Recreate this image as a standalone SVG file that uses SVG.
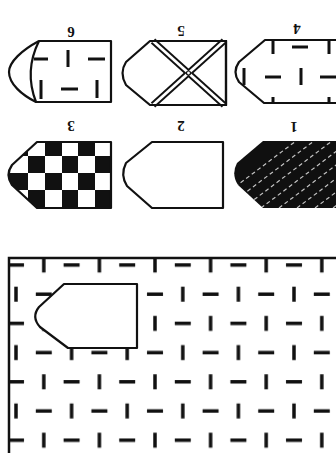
<svg xmlns="http://www.w3.org/2000/svg" width="336" height="453" viewBox="0 0 336 453">
  <style>
    .outline { fill: #fff; stroke: #111; stroke-width: 2.2; stroke-linejoin: round; }
    .dash { stroke: #111; stroke-width: 3.5; fill: none; }
    .sdash { stroke: #111; stroke-width: 3; fill: none; }
    .num { font-family: "Liberation Serif", "DejaVu Serif", serif; font-weight: bold; font-size: 15px; fill: #111; }
    .wl { stroke: #fff; stroke-width: 1.2; stroke-dasharray: 4 3; opacity: 0.75; }
  </style>
  <defs>
    <pattern id="brick" patternUnits="userSpaceOnUse" x="2.1" y="250.4" width="55.6" height="58.4">
      <line class="dash" x1="5.9" y1="14.6" x2="21.9" y2="14.6"/>
      <line class="dash" x1="41.7" y1="7.1" x2="41.7" y2="22.1"/>
      <line class="dash" x1="13.9" y1="36.3" x2="13.9" y2="51.3"/>
      <line class="dash" x1="33.7" y1="43.8" x2="49.7" y2="43.8"/>
    </pattern>
    <clipPath id="clip3">
      <path d="M37,142 H111 V208 H37 L12,185 Q5,175 12,165 Z"/>
    </clipPath>
    <clipPath id="clip1">
      <path d="M263,141 H340 V208 H263 L238,185 Q231,174 237,163 Z"/>
    </clipPath>
  </defs>
  <rect width="336" height="453" fill="#fff"/>

  <!-- Row 1 -->
  <g id="shape-6">
    <path class="outline" d="M39,41 H111 V102 H36 Q24,71 39,41 Z"/>
    <path fill="none" stroke="#111" stroke-width="2.2" d="M39,41 C22,50 9,62 9,72 C9,84 22,95 36,102"/>
    <line class="sdash" x1="34" y1="59" x2="48" y2="59"/>
    <line class="sdash" x1="68" y1="50" x2="68" y2="67"/>
    <line class="sdash" x1="88" y1="59" x2="105" y2="59"/>
    <line class="sdash" x1="41" y1="80" x2="41" y2="99"/>
    <line class="sdash" x1="61" y1="89" x2="78" y2="89"/>
    <line class="sdash" x1="97" y1="80" x2="97" y2="98"/>
    <text class="num" x="71" y="32" text-anchor="middle" dominant-baseline="central" transform="rotate(180 71 32)">6</text>
  </g>

  <g id="shape-5">
    <path class="outline" d="M150,41 H226 V105 H150 L126,85 Q119,73 126,62 Z"/>
    <line x1="153" y1="41" x2="224" y2="105" stroke="#111" stroke-width="6.5"/>
    <line x1="224" y1="41" x2="153" y2="105" stroke="#111" stroke-width="6.5"/>
    <line x1="153" y1="41" x2="224" y2="105" stroke="#fff" stroke-width="2.8"/>
    <line x1="224" y1="41" x2="153" y2="105" stroke="#fff" stroke-width="2.8"/>
    <circle cx="188.5" cy="73" r="2" fill="#fff" stroke="#111" stroke-width="1.2"/>
    <path fill="none" stroke="#111" stroke-width="2.2" d="M150,41 H226 V105 H150"/>
    <text class="num" x="181" y="31" text-anchor="middle" dominant-baseline="central" transform="rotate(180 181 31)">5</text>
  </g>

  <g id="shape-4">
    <path class="outline" d="M340,40 H265 L239,62 Q232,72 239,82 L264,103 H340"/>
    <line class="sdash" x1="273" y1="40" x2="273" y2="54"/>
    <line class="sdash" x1="292" y1="47" x2="308" y2="47"/>
    <line class="sdash" x1="329" y1="40" x2="329" y2="54"/>
    <line class="sdash" x1="244" y1="68" x2="244" y2="85"/>
    <line class="sdash" x1="265" y1="77" x2="281" y2="77"/>
    <line class="sdash" x1="301" y1="68" x2="301" y2="85"/>
    <line class="sdash" x1="320" y1="77" x2="336" y2="77"/>
    <line class="sdash" x1="273" y1="97" x2="273" y2="103"/>
    <line class="sdash" x1="329" y1="97" x2="329" y2="103"/>
    <text class="num" x="297" y="29" text-anchor="middle" dominant-baseline="central" transform="rotate(180 297 29)">4</text>
  </g>

  <!-- Row 2 -->
  <g id="shape-3">
    <path d="M37,142 H111 V208 H37 L12,185 Q5,175 12,165 Z" fill="#fff"/>
    <g clip-path="url(#clip3)" fill="#111">
      <rect x="4" y="142" width="24" height="14"/>
      <rect x="45" y="142" width="17" height="14"/>
      <rect x="78" y="142" width="17" height="14"/>
      <rect x="28" y="156" width="17" height="17"/>
      <rect x="62" y="156" width="16" height="17"/>
      <rect x="95" y="156" width="16" height="17"/>
      <rect x="4" y="173" width="24" height="17"/>
      <rect x="45" y="173" width="17" height="17"/>
      <rect x="78" y="173" width="17" height="17"/>
      <rect x="28" y="190" width="17" height="18"/>
      <rect x="62" y="190" width="16" height="18"/>
      <rect x="95" y="190" width="16" height="18"/>
    </g>
    <path d="M37,142 H111 V208 H37 L12,185 Q5,175 12,165 Z" fill="none" stroke="#111" stroke-width="2.2" stroke-linejoin="round"/>
    <text class="num" x="71" y="126" text-anchor="middle" dominant-baseline="central" transform="rotate(180 71 126)">3</text>
  </g>

  <g id="shape-2">
    <path class="outline" d="M152,142 H223 V208 H152 L127,186 Q120,175 126,163 Z"/>
    <text class="num" x="181" y="126" text-anchor="middle" dominant-baseline="central" transform="rotate(180 181 126)">2</text>
  </g>

  <g id="shape-1">
    <path d="M263,141 H340 V208 H263 L238,185 Q231,174 237,163 Z" fill="#111"/>
    <g clip-path="url(#clip1)">
      <line class="wl" x1="207" y1="208" x2="296" y2="141"/>
      <line class="wl" x1="225" y1="208" x2="314" y2="141"/>
      <line class="wl" x1="243" y1="208" x2="332" y2="141"/>
      <line class="wl" x1="261" y1="208" x2="350" y2="141"/>
      <line class="wl" x1="279" y1="208" x2="368" y2="141"/>
      <line class="wl" x1="297" y1="208" x2="386" y2="141"/>
      <line class="wl" x1="315" y1="208" x2="404" y2="141"/>
      <line class="wl" x1="333" y1="208" x2="422" y2="141"/>
    </g>
    <text class="num" x="294" y="127" text-anchor="middle" dominant-baseline="central" transform="rotate(180 294 127)">1</text>
  </g>

  <!-- Bottom panel -->
  <g id="panel">
    <rect x="9" y="258" width="327" height="195" fill="url(#brick)"/>
    <path d="M9,453 V258 H336" fill="none" stroke="#111" stroke-width="2.5"/>
  </g>
  <g id="panel-shape">
    <path class="outline" d="M64,284 H137 V348 H68 L40,327 Q31,317 39,307 Z" stroke-width="2.5"/>
  </g>
</svg>
